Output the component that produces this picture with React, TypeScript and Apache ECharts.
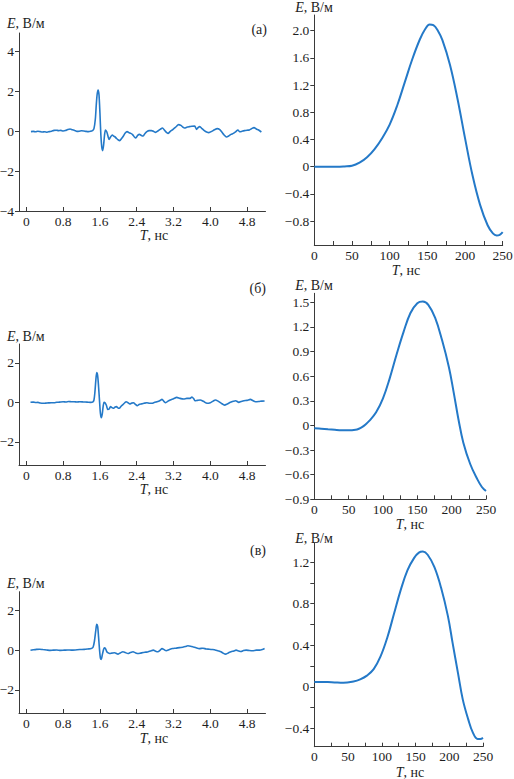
import React, { useEffect, useRef } from 'react';
import * as echarts from 'echarts';

// ---------- data ----------
const aLeft: [number, number][] = [
  [0.10, -0.03], [0.15, -0.02], [0.20, -0.04], [0.25, -0.01], [0.30, -0.03], [0.35, -0.05], [0.40, -0.04],
  [0.45, -0.06], [0.50, -0.03], [0.55, -0.01], [0.60, 0.03], [0.65, 0.04], [0.70, 0.02], [0.75, 0.03],
  [0.80, 0.00], [0.85, 0.02], [0.90, 0.07], [0.95, 0.10], [1.00, 0.06], [1.05, 0.03], [1.10, -0.02],
  [1.15, -0.01], [1.20, 0.01], [1.25, 0.00], [1.30, -0.02], [1.35, -0.03], [1.40, -0.01], [1.44, 0.02],
  [1.47, 0.12], [1.50, 0.6], [1.52, 1.3], [1.54, 1.85], [1.56, 2.05], [1.58, 1.8], [1.60, 0.9],
  [1.62, -0.2], [1.64, -0.8], [1.66, -0.98], [1.68, -0.7], [1.70, -0.2], [1.72, 0.05], [1.75, -0.05],
  [1.78, -0.3], [1.80, -0.42], [1.83, -0.3], [1.87, -0.2], [1.90, -0.26], [1.93, -0.3], [1.96, -0.37],
  [2.00, -0.45], [2.03, -0.48], [2.07, -0.38], [2.11, -0.25], [2.15, -0.1], [2.19, -0.03], [2.23, -0.08],
  [2.27, -0.12], [2.31, -0.18], [2.35, -0.3], [2.38, -0.35], [2.42, -0.22], [2.46, -0.17], [2.50, -0.22],
  [2.54, -0.25], [2.58, -0.12], [2.62, -0.03], [2.67, 0.02], [2.72, 0.02], [2.77, -0.02], [2.81, -0.07],
  [2.86, 0.0], [2.91, 0.08], [2.96, 0.15], [3.00, 0.05], [3.04, -0.06], [3.08, -0.12], [3.13, -0.02],
  [3.19, 0.08], [3.25, 0.2], [3.31, 0.32], [3.36, 0.28], [3.40, 0.2], [3.44, 0.15], [3.50, 0.2],
  [3.55, 0.22], [3.60, 0.24], [3.66, 0.25], [3.70, 0.08], [3.74, 0.18], [3.77, 0.22], [3.82, 0.12],
  [3.87, 0.02], [3.92, -0.05], [3.97, -0.08], [4.03, -0.02], [4.09, 0.06], [4.15, 0.12], [4.20, 0.08],
  [4.25, -0.05], [4.30, -0.2], [4.35, -0.3], [4.40, -0.25], [4.45, -0.17], [4.50, -0.12], [4.55, -0.04],
  [4.60, 0.05], [4.64, -0.04], [4.68, -0.02], [4.74, 0.02], [4.80, 0.04], [4.85, 0.05], [4.90, 0.12],
  [4.95, 0.17], [5.00, 0.10], [5.05, 0.05], [5.11, -0.05],
];

const bLeft: [number, number][] = [
  [0.09, 0.00], [0.15, 0.01], [0.20, -0.01], [0.25, 0.00], [0.30, -0.03], [0.36, -0.05], [0.42, -0.04],
  [0.48, -0.03], [0.54, -0.02], [0.60, -0.02], [0.66, 0.00], [0.72, 0.01], [0.80, 0.03], [0.86, 0.02],
  [0.92, 0.04], [0.98, 0.03], [1.04, 0.03], [1.10, 0.02], [1.16, 0.03], [1.24, 0.02], [1.32, 0.01],
  [1.40, 0.00], [1.44, 0.01], [1.47, 0.12], [1.49, 0.5], [1.51, 1.1], [1.53, 1.5], [1.55, 1.35],
  [1.57, 0.8], [1.59, 0.1], [1.61, -0.55], [1.63, -0.78], [1.65, -0.6], [1.67, -0.2], [1.69, 0.0],
  [1.71, -0.02], [1.74, -0.15], [1.77, -0.36], [1.80, -0.34], [1.83, -0.22], [1.86, -0.27], [1.89, -0.3],
  [1.93, -0.24], [1.96, -0.22], [1.99, -0.28], [2.02, -0.3], [2.06, -0.2], [2.10, -0.12], [2.14, -0.02],
  [2.17, 0.03], [2.21, -0.02], [2.25, -0.08], [2.29, -0.04], [2.33, -0.02], [2.37, -0.1], [2.41, -0.17],
  [2.46, -0.1], [2.51, -0.08], [2.56, -0.05], [2.62, -0.02], [2.68, -0.05], [2.73, -0.05], [2.79, 0.0],
  [2.84, 0.03], [2.90, 0.08], [2.95, 0.15], [2.99, 0.05], [3.03, -0.02], [3.08, 0.06], [3.13, 0.12],
  [3.20, 0.18], [3.27, 0.25], [3.34, 0.2], [3.42, 0.17], [3.49, 0.2], [3.56, 0.2], [3.60, 0.27],
  [3.64, 0.18], [3.67, 0.08], [3.72, 0.1], [3.78, 0.12], [3.85, 0.05], [3.93, -0.05], [4.00, -0.02],
  [4.06, 0.06], [4.11, 0.12], [4.17, 0.06], [4.24, -0.05], [4.31, -0.14], [4.37, -0.08], [4.44, 0.0],
  [4.50, 0.05], [4.55, 0.08], [4.62, 0.0], [4.67, 0.04], [4.73, 0.08], [4.80, 0.1], [4.87, 0.15],
  [4.93, 0.08], [4.98, 0.03], [5.05, 0.04], [5.12, 0.06], [5.18, 0.07],
];

const cLeft: [number, number][] = [
  [0.09, 0.00], [0.15, 0.02], [0.22, 0.04], [0.29, 0.05], [0.36, 0.03], [0.44, 0.01], [0.52, -0.01],
  [0.58, 0.00], [0.66, 0.01], [0.74, -0.01], [0.82, 0.00], [0.90, 0.01], [0.98, 0.00], [1.06, 0.01],
  [1.16, 0.03], [1.26, 0.04], [1.34, 0.06], [1.41, 0.08], [1.45, 0.15], [1.48, 0.45], [1.51, 1.0],
  [1.53, 1.3], [1.55, 1.2], [1.57, 0.67], [1.59, 0.05], [1.61, -0.4], [1.63, -0.47], [1.65, -0.25],
  [1.68, 0.05], [1.70, 0.12], [1.72, 0.08], [1.75, -0.08], [1.78, -0.14], [1.81, -0.17], [1.86, -0.15],
  [1.92, -0.13], [1.96, -0.17], [1.99, -0.2], [2.04, -0.14], [2.10, -0.08], [2.15, -0.12], [2.21, -0.17],
  [2.26, -0.12], [2.32, -0.08], [2.37, -0.13], [2.43, -0.17], [2.48, -0.15], [2.54, -0.12], [2.60, -0.1],
  [2.65, -0.08], [2.70, -0.04], [2.76, 0.0], [2.81, -0.05], [2.86, -0.08], [2.91, 0.0], [2.95, 0.08],
  [3.00, 0.02], [3.04, -0.03], [3.11, 0.03], [3.18, 0.08], [3.25, 0.1], [3.33, 0.13], [3.40, 0.15],
  [3.46, 0.18], [3.51, 0.22], [3.57, 0.2], [3.62, 0.17], [3.69, 0.12], [3.76, 0.08], [3.84, 0.1],
  [3.91, 0.06], [3.98, 0.05], [4.05, 0.03], [4.12, 0.0], [4.18, -0.04], [4.23, -0.08], [4.28, -0.15],
  [4.33, -0.2], [4.39, -0.14], [4.45, -0.08], [4.51, -0.04], [4.56, 0.0], [4.62, -0.04], [4.67, -0.07],
  [4.72, -0.02], [4.78, 0.0], [4.85, -0.02], [4.92, -0.03], [5.00, 0.0], [5.07, 0.0], [5.13, 0.03],
  [5.18, 0.08],
];

const aRight: [number, number][] = [
  [0, 0], [10, 0], [20, 0], [30, 0], [40, 0.005], [50, 0.015], [60, 0.06], [70, 0.14], [80, 0.26],
  [90, 0.42], [100, 0.62], [110, 0.9], [120, 1.24], [130, 1.58], [140, 1.87], [147, 2.02], [153, 2.09],
  [158, 2.08], [164, 2.0], [170, 1.86], [180, 1.5], [190, 1.0], [200, 0.42], [210, -0.13], [220, -0.56],
  [230, -0.86], [237, -0.98], [242, -1.01], [246, -1.0], [250, -0.96],
];

const bRight: [number, number][] = [
  [0, -0.033], [10, -0.04], [20, -0.047], [30, -0.053], [40, -0.058], [50, -0.06], [60, -0.053],
  [65, -0.04], [70, -0.018], [75, 0.015], [80, 0.055], [90, 0.16], [100, 0.33], [110, 0.58], [120, 0.87],
  [130, 1.14], [140, 1.37], [150, 1.49], [158, 1.51], [166, 1.47], [176, 1.31], [186, 1.04], [196, 0.71],
  [203, 0.4], [210, 0.07], [217, -0.21], [227, -0.47], [237, -0.65], [244, -0.75], [250, -0.8],
];

const cRight: [number, number][] = [
  [0, 0.048], [10, 0.048], [20, 0.047], [30, 0.043], [43, 0.039], [58, 0.052], [68, 0.072], [78, 0.108],
  [88, 0.17], [98, 0.29], [108, 0.47], [118, 0.7], [128, 0.93], [138, 1.12], [148, 1.24], [155, 1.29],
  [161, 1.3], [168, 1.27], [178, 1.15], [188, 0.95], [198, 0.68], [205, 0.42], [213, 0.13], [220, -0.12],
  [228, -0.31], [235, -0.44], [242, -0.5], [246, -0.5], [250, -0.49],
];

// ---------- tick labels ----------
const leftTicksX = [0, 0.8, 1.6, 2.4, 3.2, 4.0, 4.8];
const leftTicksY = [-4, -2, 0, 2, 4];
const rightTicksX = [0, 50, 100, 150, 200, 250];
const rightMinorX = [0, 25, 50, 75, 100, 125, 150, 175, 200, 225, 250];
const aRightTicksY = [-0.8, -0.4, 0, 0.4, 0.8, 1.2, 1.6, 2.0];
const bRightTicksY = [-0.9, -0.6, -0.3, 0, 0.3, 0.6, 0.9, 1.2, 1.5];
const cRightTicksY = [-0.4, 0, 0.4, 0.8, 1.2];
const cRightMinorY = [-0.4, -0.2, 0, 0.2, 0.4, 0.6, 0.8, 1.0, 1.2];

const panelLetters = ['(а)', '(б)', '(в)'];
const yName = '{i|E}, В/м';
const xName = '{i|T}, нс';

const FONT = '"Liberation Serif", "Times New Roman", serif';
const LINE = '#2479c8';
const AXIS = '#3a3a3a';
const TEXT = '#1e1e1e';

const fmtInt = (v: number) => (v === 0 ? '0' : String(v).replace('-', '−'));
const fmt1 = (v: number) => (Math.abs(v) < 1e-9 ? '0' : v.toFixed(1).replace('-', '−'));

export default function App() {
  const ref = useRef<HTMLDivElement>(null);

  useEffect(() => {
    if (!ref.current) return;
    const chart = echarts.init(ref.current, undefined, { renderer: 'svg' });

    const panels = [
      { grid: { left: 19, top: 33, width: 246.5, height: 178 }, x: [-0.16, 5.2], y: [-4, 4.9], data: aLeft, kind: 'L', yTicks: leftTicksY, yMinor: leftTicksY },
      { grid: { left: 314.3, top: 15, width: 188.4, height: 230 }, x: [0, 250], y: [-1.15, 2.23], data: aRight, kind: 'R', yTicks: aRightTicksY, yMinor: aRightTicksY },
      { grid: { left: 19, top: 344, width: 246.5, height: 121 }, x: [-0.16, 5.2], y: [-3.17, 2.95], data: bLeft, kind: 'L', yTicks: leftTicksY, yMinor: leftTicksY },
      { grid: { left: 314.3, top: 293.3, width: 171.7, height: 206 }, x: [0, 250], y: [-0.9, 1.61], data: bRight, kind: 'R', yTicks: bRightTicksY, yMinor: bRightTicksY },
      { grid: { left: 19, top: 591.7, width: 246.5, height: 121.3 }, x: [-0.16, 5.2], y: [-3.17, 2.95], data: cLeft, kind: 'L', yTicks: leftTicksY, yMinor: leftTicksY },
      { grid: { left: 314.3, top: 543.3, width: 168.7, height: 203.4 }, x: [0, 250], y: [-0.575, 1.38], data: cRight, kind: 'R', yTicks: cRightTicksY, yMinor: cRightMinorY },
    ];

    const labelStyle = { fontFamily: FONT, fontSize: 13.5, color: TEXT };

    const grids = panels.map((p) => ({ ...p.grid, containLabel: false, outerBoundsMode: 'none' }));
    const xAxes = panels.map((p, i) => ({
      type: 'value',
      gridIndex: i,
      min: p.x[0],
      max: p.x[1],
      splitLine: { show: false },
      axisLine: { show: true, onZero: false, lineStyle: { color: AXIS, width: 1 } },
      axisTick: {
        show: true,
        inside: true,
        length: 4,
        customValues: p.kind === 'L' ? leftTicksX : rightMinorX,
        lineStyle: { color: AXIS, width: 1 },
      },
      axisLabel: {
        ...labelStyle,
        margin: 3,
        lineHeight: 14,
        customValues: p.kind === 'L' ? leftTicksX : rightTicksX,
        formatter: p.kind === 'L' ? fmt1 : fmtInt,
      },
    }));
    const yAxes = panels.map((p, i) => ({
      type: 'value',
      gridIndex: i,
      min: p.y[0],
      max: p.y[1],
      splitLine: { show: false },
      axisLine: { show: true, onZero: false, lineStyle: { color: AXIS, width: 1 } },
      axisTick: {
        show: true,
        inside: false,
        length: 4,
        customValues: p.yMinor,
        lineStyle: { color: AXIS, width: 1 },
      },
      axisLabel: {
        ...labelStyle,
        margin: 5,
        customValues: p.yTicks,
        formatter: p.kind === 'L' ? fmtInt : fmt1,
      },
    }));
    const series = panels.map((p, i) => ({
      type: 'line',
      xAxisIndex: i,
      yAxisIndex: i,
      data: p.data,
      showSymbol: false,
      smooth: p.kind === 'L' ? 0.25 : 0.4,
      lineStyle: { color: LINE, width: p.kind === 'L' ? 1.6 : 2 },
      silent: true,
    }));

    const rich = { i: { fontStyle: 'italic', fontFamily: FONT, fontSize: 14, fill: TEXT, lineHeight: 14 } };
    const txt = (text: string, x: number, y: number, align: string) => ({
      type: 'text',
      silent: true,
      style: {
        text,
        x,
        y,
        align,
        verticalAlign: 'middle',
        fontFamily: FONT,
        fontSize: 14,
        lineHeight: 14,
        fill: TEXT,
        rich,
      },
    });

    const graphic = [
      // y axis names
      txt(yName, 7, 23, 'left'),
      txt(yName, 314, 7, 'center'),
      txt(yName, 7, 336, 'left'),
      txt(yName, 314, 285, 'center'),
      txt(yName, 7, 583, 'left'),
      txt(yName, 314, 538, 'center'),
      // x axis names
      txt(xName, 154, 235, 'center'),
      txt(xName, 406, 270, 'center'),
      txt(xName, 154, 489, 'center'),
      txt(xName, 410, 524, 'center'),
      txt(xName, 154, 738, 'center'),
      txt(xName, 410, 772, 'center'),
      // panel letters
      txt(panelLetters[0], 267, 29, 'right'),
      txt(panelLetters[1], 266, 288, 'right'),
      txt(panelLetters[2], 266, 550, 'right'),
    ];

    chart.setOption({
      animation: false,
      backgroundColor: '#ffffff',
      grid: grids,
      xAxis: xAxes,
      yAxis: yAxes,
      series,
      graphic,
    } as any);

    return () => chart.dispose();
  }, []);

  return (
    <div
      ref={ref}
      style={{ position: 'absolute', left: 0, top: 0, width: 514, height: 779, background: '#fff' }}
    />
  );
}
